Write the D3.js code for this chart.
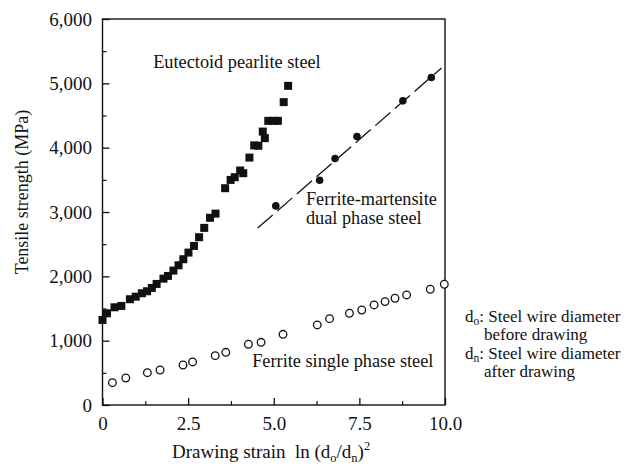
<!DOCTYPE html>
<html>
<head>
<meta charset="utf-8">
<script src="https://cdn.jsdelivr.net/npm/d3@7"></script>
<style>
  body { margin: 0; background: #fff; }
</style>
</head>
<body>
<script>
// tensile strength vs drawing strain for three steel wires

// eutectoid pearlite steel (filled squares)
var pearliteX = [0.00, 0.13, 0.35, 0.55, 0.80, 0.97, 1.15, 1.30, 1.44, 1.58, 1.78, 1.91, 2.07, 2.22, 2.36,
                 2.51, 2.67, 2.82, 2.97, 3.14, 3.30, 3.58, 3.74, 3.86, 4.02, 4.11, 4.29, 4.43, 4.55, 4.68,
                 4.74, 4.84, 4.98, 5.12, 5.29, 5.42];
var pearliteY = [1322, 1426, 1519, 1540, 1644, 1684, 1737, 1768, 1820, 1882, 1964, 2006, 2089, 2172, 2266,
                 2369, 2473, 2608, 2753, 2910, 2975, 3370, 3499, 3541, 3645, 3603, 3846, 4035, 4030, 4250,
                 4148, 4417, 4417, 4417, 4708, 4961];

// ferrite-martensite dual phase steel (filled circles + dashed trend)
var dualX = [5.06, 6.34, 6.79, 7.43, 8.77, 9.60];
var dualY = [3095, 3494, 3831, 4173, 4728, 5090];
var dualLineX = [4.53, 9.90];
var dualLineY = [2750, 5240];

// ferrite single phase steel (open circles)
var ferriteX = [0.29, 0.68, 1.31, 1.68, 2.35, 2.63, 3.29, 3.60, 4.26, 4.63, 5.27,
                6.27, 6.63, 7.21, 7.57, 7.93, 8.25, 8.54, 8.88, 9.57, 9.98];
var ferriteY = [347, 420, 502, 544, 622, 669, 767, 819, 944, 975, 1099,
                1244, 1342, 1426, 1477, 1555, 1607, 1659, 1711, 1799, 1877];

var xTicks = [0, 2.5, 5, 7.5, 10];
var xTickLabels = ["0", "2.5", "5.0", "7.5", "10.0"];
var xMinorTicks = [1.25, 3.75, 6.25, 8.75];
var yTicks = [0, 1000, 2000, 3000, 4000, 5000, 6000];
var yMinorTicks = [500, 1500, 2500, 3500, 4500, 5500];

var width = 635, height = 465;
var serif = "'Liberation Serif', 'Times New Roman', 'DejaVu Serif', serif";

var svg = d3.select("body").append("svg")
    .attr("width", width)
    .attr("height", height)
    .attr("font-family", serif);

var x = d3.scaleLinear().domain([0, 10]).range([102.5, 445]);
var y = d3.scaleLinear().domain([0, 6000]).range([405, 19]);

// y axis, ticks pointing inward
var yAxis = svg.append("g")
    .attr("transform", "translate(" + x(0) + ",0)")
    .call(d3.axisLeft(y).tickValues(yTicks).tickFormat(d3.format(","))
      .tickSizeInner(-7).tickSizeOuter(0).tickPadding(10.5));
yAxis.select(".domain").remove();
yAxis.selectAll("line").attr("stroke", "#111").attr("stroke-width", 1.3);
yAxis.selectAll("text").style("font-size", "19px");

var yMinor = svg.append("g")
    .attr("transform", "translate(" + x(0) + ",0)")
    .call(d3.axisLeft(y).tickValues(yMinorTicks).tickFormat("").tickSizeInner(-4).tickSizeOuter(0));
yMinor.select(".domain").remove();
yMinor.selectAll("line").attr("stroke", "#111").attr("stroke-width", 1.2);

// x axis
var xAxis = svg.append("g")
    .attr("transform", "translate(0," + y(0) + ")")
    .call(d3.axisBottom(x).tickValues(xTicks).tickFormat((d, i) => xTickLabels[i])
      .tickSizeInner(-7).tickSizeOuter(0).tickPadding(12));
xAxis.select(".domain").remove();
xAxis.selectAll("line").attr("stroke", "#111").attr("stroke-width", 1.3);
xAxis.selectAll("text").style("font-size", "19px");

var xMinor = svg.append("g")
    .attr("transform", "translate(0," + y(0) + ")")
    .call(d3.axisBottom(x).tickValues(xMinorTicks).tickFormat("").tickSizeInner(-4).tickSizeOuter(0));
xMinor.select(".domain").remove();
xMinor.selectAll("line").attr("stroke", "#111").attr("stroke-width", 1.2);

// frame
svg.append("rect")
    .attr("x", x(0))
    .attr("y", y(6000))
    .attr("width", x(10) - x(0))
    .attr("height", y(0) - y(6000))
    .attr("fill", "none")
    .attr("stroke", "#111")
    .attr("stroke-width", 1.4);

// dashed trend for dual phase
var line = d3.line().x(d => x(d[0])).y(d => y(d[1]));
svg.append("path")
    .datum(d3.zip(dualLineX, dualLineY))
    .attr("d", line)
    .attr("fill", "none")
    .attr("stroke", "#111")
    .attr("stroke-width", 1.3)
    .attr("stroke-dasharray", "20,6");

// pearlite squares
var sq = 8;
svg.append("g").selectAll("rect")
    .data(d3.zip(pearliteX, pearliteY))
    .enter()
    .append("rect")
    .attr("x", d => x(d[0]) - sq / 2)
    .attr("y", d => y(d[1]) - sq / 2)
    .attr("width", sq)
    .attr("height", sq)
    .attr("fill", "#111");

// dual phase dots
svg.append("g").selectAll("circle")
    .data(d3.zip(dualX, dualY))
    .enter()
    .append("circle")
    .attr("cx", d => x(d[0]))
    .attr("cy", d => y(d[1]))
    .attr("r", 3.8)
    .attr("fill", "#111");

// ferrite open circles
svg.append("g").selectAll("circle")
    .data(d3.zip(ferriteX, ferriteY))
    .enter()
    .append("circle")
    .attr("cx", d => x(d[0]))
    .attr("cy", d => y(d[1]))
    .attr("r", 3.8)
    .attr("fill", "#fff")
    .attr("stroke", "#111")
    .attr("stroke-width", 1.3);

// series labels
var fs = "18.3px";
svg.append("text").attr("x", x(1.48)).attr("y", y(5240)).style("font-size", fs)
    .text("Eutectoid pearlite steel");
svg.append("text").attr("x", x(5.94)).attr("y", y(3110)).style("font-size", fs)
    .text("Ferrite-martensite");
svg.append("text").attr("x", x(5.94)).attr("y", y(2810)).style("font-size", fs)
    .text("dual phase steel");
svg.append("text").attr("x", x(4.37)).attr("y", y(590)).style("font-size", fs)
    .text("Ferrite single phase steel");

// notes on the right
var ns = "17px";
function note(ty, sub, rest) {
  var t = svg.append("text").attr("x", 465).attr("y", ty).style("font-size", ns);
  t.append("tspan").text("d");
  t.append("tspan").attr("dy", 3).style("font-size", "11.5px").text(sub);
  t.append("tspan").attr("dy", -3).text(rest);
}
note(322, "o", ": Steel wire diameter");
svg.append("text").attr("x", 484).attr("y", 340).style("font-size", ns).text("before drawing");
note(359, "n", ": Steel wire diameter");
svg.append("text").attr("x", 484).attr("y", 377).style("font-size", ns).text("after drawing");

// axis titles
var xt = svg.append("text")
    .attr("x", 172)
    .attr("y", 458)
    .style("font-size", "19px");
xt.append("tspan").text("Drawing strain\u00a0\u00a0ln (d");
xt.append("tspan").attr("dy", 4).style("font-size", "12.5px").text("o");
xt.append("tspan").attr("dy", -4).text("/d");
xt.append("tspan").attr("dy", 4).style("font-size", "12.5px").text("n");
xt.append("tspan").attr("dy", -4).text(")");
xt.append("tspan").attr("dy", -8).style("font-size", "12.5px").text("2");

svg.append("text")
    .attr("transform", "translate(28," + 192 + ") rotate(-90)")
    .attr("text-anchor", "middle")
    .style("font-size", "18px")
    .text("Tensile strength (MPa)");

svg.selectAll("text").style("font-family", serif).attr("fill", "#111");
</script>
</body>
</html>
